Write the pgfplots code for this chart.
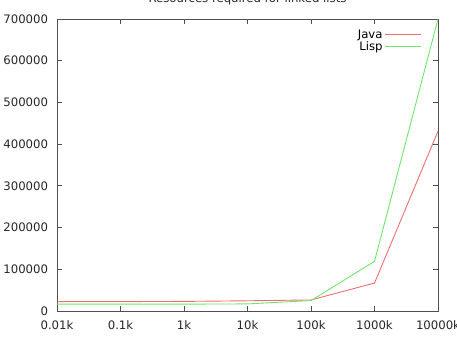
\documentclass[border=0pt]{standalone}
\usepackage{pgfplots}
\pgfplotsset{compat=1.18}
\usepackage{fontspec}
\setmainfont{DejaVu Sans}
\definecolor{javac}{RGB}{240,110,110}
\definecolor{lispc}{RGB}{110,230,110}
\definecolor{axc}{RGB}{80,80,80}
\begin{document}
\begin{tikzpicture}[x=1pt,y=1pt,font=\fontsize{11.7}{14}\selectfont]
\path[use as bounding box] (0,0) rectangle (457,338);
\begin{axis}[
  at={(57pt,27pt)}, anchor=south west,
  scale only axis, width=381pt, height=292pt,
  xmin=0, xmax=6, ymin=0, ymax=700000,
  xtick={0,1,2,3,4,5,6},
  xticklabels={0.01k,0.1k,1k,10k,100k,1000k,10000k},
  ytick={0,100000,200000,300000,400000,500000,600000,700000},
  scaled y ticks=false,
  /pgf/number format/fixed,
  /pgf/number format/1000 sep={},
  /pgf/number format/assume math mode=true,
  tick align=inside,
  major tick length=5pt,
  axis line style={axc, line width=0.8pt},
  every tick/.style={axc, line width=0.8pt},
  tick label style={font=\fontsize{11.7}{14}\selectfont, text=black!85},
  xticklabel style={yshift=-6.5pt},
  yticklabel style={xshift=-5.4pt},
  title={Resources required for linked lists},
  title style={at={(0.5,1)}, anchor=base, yshift=10.5pt, font=\fontsize{11.7}{14}\selectfont, text=black!85},
  legend style={at={(0.965,0.978)}, anchor=north east, draw=none, fill=none,
    font=\fontsize{11.7}{14}\selectfont, row sep=-2pt},
  legend cell align=right,
  legend plot pos=right,
  legend image code/.code={\draw[#1] (0pt,0pt) -- (36pt,0pt);},
]
\addplot[javac, line width=0.9pt] coordinates {
  (0,22300) (1,22500) (2,23000) (3,24500) (4,26500) (5,67000) (6,431000)
};
\addlegendentry{Java}
\addplot[lispc, line width=0.9pt] coordinates {
  (0,16500) (1,16500) (2,16500) (3,17000) (4,25000) (5,119000) (6,700000)
};
\addlegendentry{Lisp}
\end{axis}
\end{tikzpicture}
\end{document}
